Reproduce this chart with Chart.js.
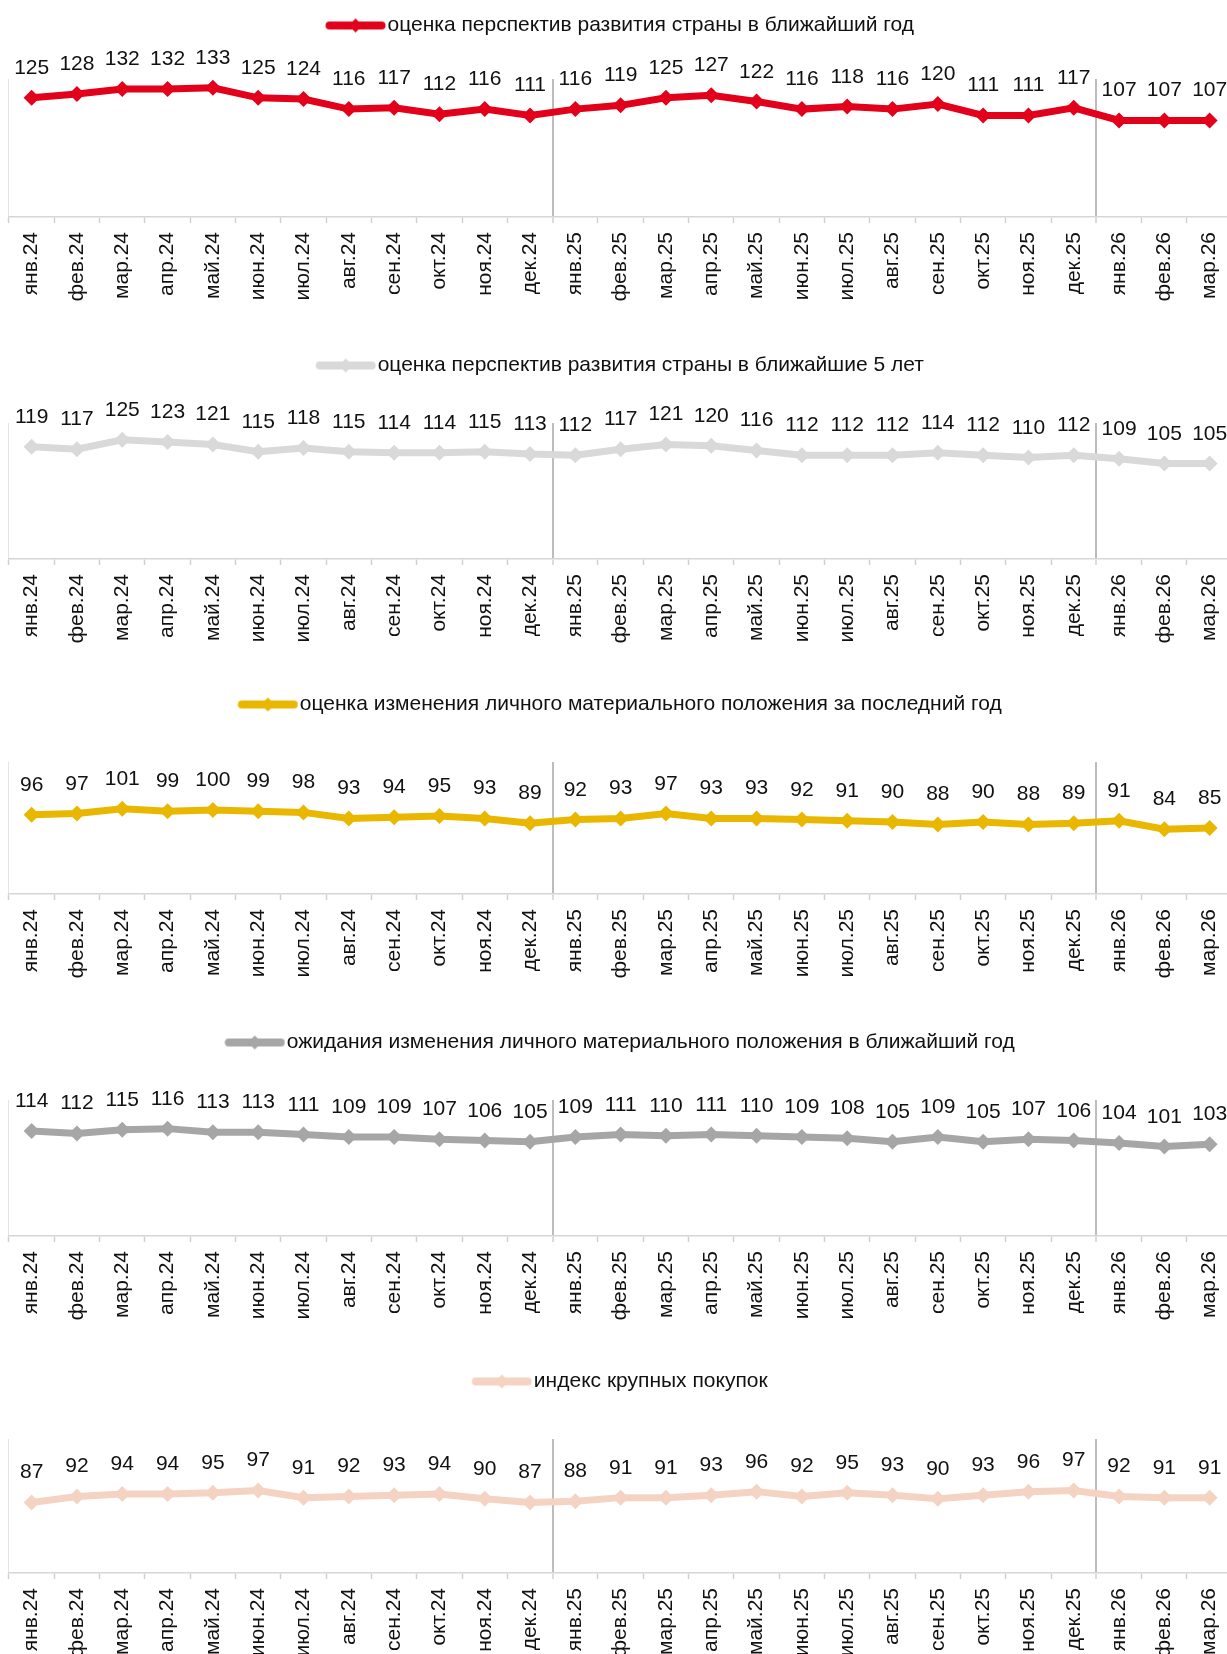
<!DOCTYPE html>
<html>
<head>
<meta charset="utf-8">
<script src="https://cdn.jsdelivr.net/npm/chart.js@4.4.1/dist/chart.umd.min.js"></script>
<style>
    html, body { margin: 0; padding: 0; background: #fff; overflow: hidden; width: 1227px; height: 1654px; }
    .panel { position: absolute; left: 0; }
</style>
</head>
<body>
<div id="root"></div>
<script>
const months = [
    'янв.24', 'фев.24', 'мар.24', 'апр.24', 'май.24', 'июн.24', 'июл.24', 'авг.24', 'сен.24', 'окт.24', 'ноя.24', 'дек.24',
    'янв.25', 'фев.25', 'мар.25', 'апр.25', 'май.25', 'июн.25', 'июл.25', 'авг.25', 'сен.25', 'окт.25', 'ноя.25', 'дек.25',
    'янв.26', 'фев.26', 'мар.26'
];

const countryYear = [125, 128, 132, 132, 133, 125, 124, 116, 117, 112, 116, 111, 116, 119, 125, 127, 122, 116, 118, 116, 120, 111, 111, 117, 107, 107, 107];
const countryFive = [119, 117, 125, 123, 121, 115, 118, 115, 114, 114, 115, 113, 112, 117, 121, 120, 116, 112, 112, 112, 114, 112, 110, 112, 109, 105, 105];
const personalPast = [96, 97, 101, 99, 100, 99, 98, 93, 94, 95, 93, 89, 92, 93, 97, 93, 93, 92, 91, 90, 88, 90, 88, 89, 91, 84, 85];
const personalNext = [114, 112, 115, 116, 113, 113, 111, 109, 109, 107, 106, 105, 109, 111, 110, 111, 110, 109, 108, 105, 109, 105, 107, 106, 104, 101, 103];
const bigPurchases = [87, 92, 94, 94, 95, 97, 91, 92, 93, 94, 90, 87, 88, 91, 91, 93, 96, 92, 95, 93, 90, 93, 96, 97, 92, 91, 91];

const FONT = '"Liberation Sans", Arial, sans-serif';
const FS = 21;           // text size everywhere
const AXIS_H = 90;       // room for the rotated month labels

const panels = [
    { name: 'оценка перспектив развития страны в ближайший год', data: countryYear, color: '#E2001A', min: 30, max: 140, top: 5, gap: 33, plotH: 138 },
    { name: 'оценка перспектив развития страны в ближайшие 5 лет', data: countryFive, color: '#D9D9D9', min: 25, max: 139, top: 345, gap: 37, plotH: 136 },
    { name: 'оценка изменения личного материального положения за последний год', data: personalPast, color: '#E9B700', min: 30, max: 140, top: 684, gap: 37, plotH: 132 },
    { name: 'ожидания изменения личного материального положения в ближайший год', data: personalNext, color: '#A6A6A6', min: 26, max: 140, top: 1022, gap: 37, plotH: 136 },
    { name: 'индекс крупных покупок', data: bigPurchases, color: '#F5D3C2', min: 28, max: 140, top: 1361, gap: 37, plotH: 134 }
];

// legend marker: thick line with a diamond in the middle
function legendMark(color) {
    const c = document.createElement('canvas');
    c.width = 72; c.height = 18;
    const g = c.getContext('2d');
    g.strokeStyle = color;
    g.lineWidth = 8;
    g.lineCap = 'round';
    g.beginPath(); g.moveTo(15.5, 9); g.lineTo(67.5, 9); g.stroke();
    g.fillStyle = color;
    g.beginPath(); g.moveTo(41.5, 2); g.lineTo(48.5, 9); g.lineTo(41.5, 16); g.lineTo(34.5, 9); g.closePath(); g.fill();
    return c;
}

// more room under the legend, and nudge it a bit to the left
const legendGap = {
    id: 'legendGap',
    beforeInit(chart, args, opts) {
        const legend = chart.legend;
        const fit = legend.fit;
        const draw = legend.draw;
        legend.fit = function () {
            fit.call(this);
            this.height += opts.gap;
        };
        legend.draw = function (area) {
            this.ctx.save();
            this.ctx.translate(opts.shift, 0);
            draw.call(this, area);
            this.ctx.restore();
        };
    }
};

const valueLabels = {
    id: 'valueLabels',
    afterDatasetsDraw(chart) {
        const ctx = chart.ctx;
        const vals = chart.data.datasets[0].data;
        ctx.save();
        ctx.font = FS + 'px ' + FONT;
        ctx.fillStyle = '#111';
        ctx.textAlign = 'center';
        ctx.textBaseline = 'alphabetic';
        chart.getDatasetMeta(0).data.forEach((pt, i) => ctx.fillText(String(vals[i]), pt.x, pt.y - 24));
        ctx.restore();
    }
};

const root = document.getElementById('root');
panels.forEach(p => {
    const div = document.createElement('div');
    div.className = 'panel';
    div.style.top = p.top + 'px';
    const canvas = document.createElement('canvas');
    canvas.width = 1244;
    canvas.height = FS + 20 + p.gap + p.plotH + AXIS_H;
    div.appendChild(canvas);
    root.appendChild(div);

    new Chart(canvas.getContext('2d'), {
        type: 'line',
        data: {
            labels: months,
            datasets: [{
                label: p.name,
                data: p.data,
                borderColor: p.color,
                backgroundColor: p.color,
                borderWidth: 7,
                tension: 0,
                pointStyle: 'rectRot',
                pointRadius: 8,
                pointBorderWidth: 0,
                pointBackgroundColor: p.color
            }]
        },
        options: {
            responsive: false,
            animation: false,
            devicePixelRatio: 1,
            layout: { padding: { left: 9, right: 0, top: 0, bottom: 0 } },
            plugins: {
                legendGap: { gap: p.gap, shift: -8 },
                legend: {
                    display: true,
                    position: 'top',
                    labels: {
                        usePointStyle: true,
                        pointStyle: legendMark(p.color),
                        pointStyleWidth: 54,
                        padding: 10,
                        color: '#111',
                        font: { family: FONT, size: FS }
                    }
                },
                tooltip: { enabled: false }
            },
            scales: {
                x: {
                    offset: true,
                    afterFit: s => { s.height = AXIS_H; },
                    grid: {
                        offset: true,
                        color: c => (c.index === 12 || c.index === 24) ? '#BDBDBD' : (c.index === 0 ? '#E4E4E4' : 'rgba(0,0,0,0)'),
                        lineWidth: c => (c.index === 12 || c.index === 24) ? 2 : 1,
                        tickColor: '#D0D0D0',
                        tickLength: 6,
                        tickWidth: 1.5
                    },
                    border: { color: '#D6D6D6', width: 1.5 },
                    ticks: {
                        autoSkip: false,
                        minRotation: 90,
                        maxRotation: 90,
                        padding: 9,
                        color: '#111',
                        font: { family: FONT, size: FS }
                    }
                },
                y: {
                    display: false,
                    min: p.min,
                    max: p.max
                }
            }
        },
        plugins: [legendGap, valueLabels]
    });
});
</script>
</body>
</html>
